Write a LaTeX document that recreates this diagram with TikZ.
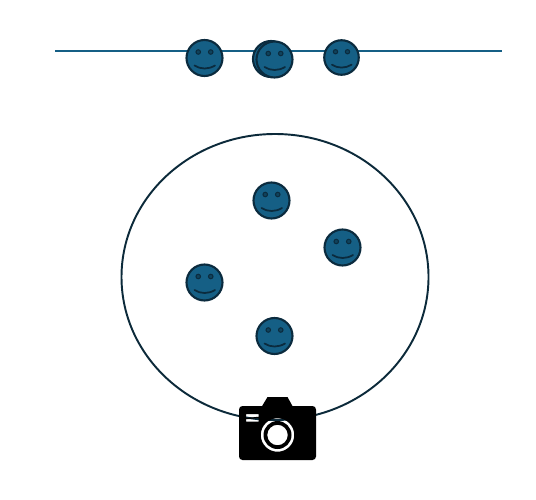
\documentclass[tikz,border=0pt]{standalone}
\usepackage{xcolor}
\usetikzlibrary{shapes.geometric}
\definecolor{facefill}{HTML}{155F85}
\definecolor{faceline}{HTML}{0B2B3E}
\definecolor{ringline}{HTML}{0C2A3A}
\tikzset{
    facebody/.style={circle, draw=faceline, fill=facefill, line width=1.2pt, minimum size=7.2mm, inner sep=0pt, transform shape},
    faceeye/.style={draw=faceline, fill=facefill!70!black, line width=0.6pt},
    facesmile/.style={draw=faceline, line width=1pt, line cap=round},
    face/.pic={
        \node[facebody] (-body) at (0, 0) {};
        \draw[faceeye] (-0.125, 0.12) circle (0.045);
        \draw[faceeye] (0.125, 0.12) circle (0.045);
        \draw[facesmile] (-0.20, -0.15) .. controls (-0.08, -0.23) and (0.08, -0.23) .. (0.21, -0.15);
    }
}
\begin{document}
\begin{tikzpicture}
\useasboundingbox (0, 0) rectangle (10.72, 9.98);

% Horizontal line behind the top row
\coordinate (lineL) at (1.10, 8.96);
\coordinate (lineR) at (10.04, 8.96);
\draw[facefill, line width=0.9pt] (lineL) -- (lineR);

% Big ellipse
\node[ellipse, draw=ringline, line width=1.1pt, minimum width=6.14cm, minimum height=5.72cm, inner sep=0pt] (ring) at (5.50, 4.44) {};

% Top row of faces
\pic (top1) at (4.09, 8.82) {face};
\pic (top2) at (5.42, 8.80) {face};
\pic (top3) at (5.49, 8.79) {face};
\pic[scale=0.96] (top4) at (6.83, 8.83) {face};

% Faces inside the ellipse
\pic (in1) at (5.43, 5.97) {face};
\pic (in2) at (6.85, 5.03) {face};
\pic (in3) at (4.09, 4.33) {face};
\pic (in4) at (5.49, 3.26) {face};

% Camera
\fill[black] (5.23, 1.84) -- (5.35, 2.04) -- (5.75, 2.04) -- (5.86, 1.84) -- cycle;
\fill[black, even odd rule, rounded corners=2pt] (4.78, 0.78) rectangle (6.32, 1.86)
    [sharp corners]
    (5.55, 1.28) circle (0.335)
    (5.55, 1.28) circle (0.28)
    (5.55, 1.28) circle (0.205)
    (4.92, 1.70) -- (5.17, 1.70) -- (5.17, 1.645) -- (4.92, 1.62) -- cycle
    (4.92, 1.595) -- (5.17, 1.62) -- (5.17, 1.55) -- (4.92, 1.55) -- cycle;
\end{tikzpicture}
\end{document}
